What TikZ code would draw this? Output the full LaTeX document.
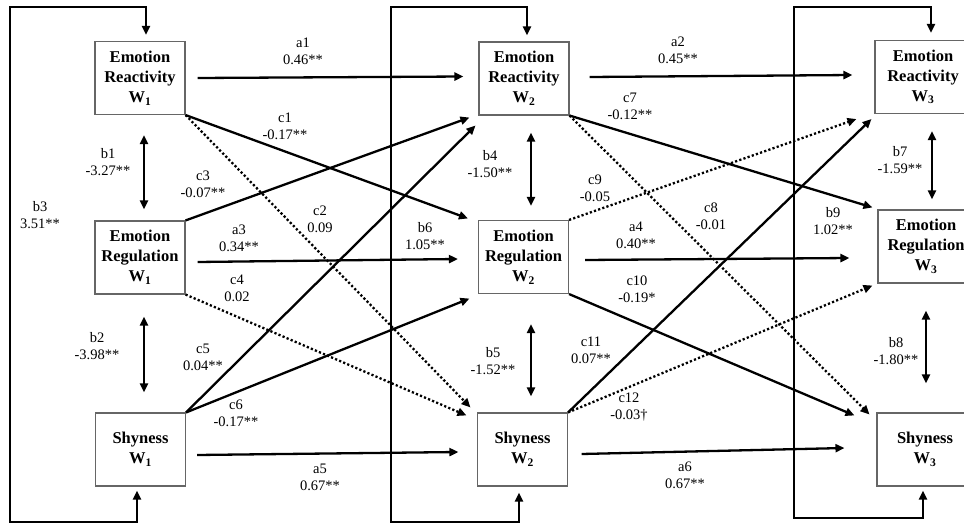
\documentclass[tikz,border=0pt]{standalone}
\usepackage{fontspec}
\setmainfont{Liberation Serif}
\usetikzlibrary{arrows.meta,calc}
\tikzset{
 box/.style={draw=black!60, line width=1.1pt, minimum width=90pt, minimum height=73pt, inner sep=0pt, align=center, font=\fontsize{16.5}{20}\selectfont\bfseries},
 rbox/.style={box, minimum width=96pt},
 lab/.style={align=center, font=\fontsize{14.5}{17}\selectfont, inner sep=0pt},
 arr/.style={line width=2.3pt, -{Triangle[length=9pt,width=8pt]}},
 dotarr/.style={arr, dash pattern=on 2.2pt off 2.2pt},
 dbl/.style={line width=2.3pt, {Triangle[length=9pt,width=8pt]}-{Triangle[length=9pt,width=8pt]}},
}
\begin{document}
\begin{tikzpicture}[x=1pt,y=-1pt]
\useasboundingbox (0,0) rectangle (964,524);
% boxes
\node[box] (ER1) at (140,78) {Emotion\\Reactivity\\W\textsubscript{1}};
\node[box] (EG1) at (140,257.5) {Emotion\\Regulation\\W\textsubscript{1}};
\node[box] (SH1) at (140.5,449.5) {Shyness\\W\textsubscript{1}};
\node[box] (ER2) at (524,78.5) {Emotion\\Reactivity\\W\textsubscript{2}};
\node[box] (EG2) at (523.5,257) {Emotion\\Regulation\\W\textsubscript{2}};
\node[box] (SH2) at (522.5,449.5) {Shyness\\W\textsubscript{2}};
\node[rbox] (ER3) at (923,77) {Emotion\\Reactivity\\W\textsubscript{3}};
\node[rbox] (EG3) at (926,246.5) {Emotion\\Regulation\\W\textsubscript{3}};
\node[rbox] (SH3) at (925,449.5) {Shyness\\W\textsubscript{3}};
% loop corners
\coordinate (L1t) at (10,7); \coordinate (L1b) at (10,522);
\coordinate (L2t) at (391,7); \coordinate (L2b) at (391,522);
\coordinate (L3t) at (794,7); \coordinate (L3b) at (794,518);
\draw[dbl] ([shift={(6,-6)}]ER1.north) |- (L1t) -- (L1b) -| ([shift={(-3.5,4)}]SH1.south);
\draw[dbl] ([shift={(3,-6)}]ER2.north) |- (L2t) -- (L2b) -| ([shift={(-3.5,6)}]SH2.south);
\draw[dbl] ([shift={(8,-7)}]ER3.north) |- (L3t) -- (L3b) -| ([shift={(-2,4)}]SH3.south);
% a paths
\draw[arr] ([shift={(12,0)}]ER1.east) -- ([shift={(-15,-2)}]ER2.west);
\draw[arr] ([shift={(20,-1.5)}]ER2.east) -- ([shift={(-22,-2)}]ER3.west);
\draw[arr] ([shift={(12,4.5)}]EG1.east) -- ([shift={(-20,2)}]EG2.west);
\draw[arr] ([shift={(16,3)}]EG2.east) -- ([shift={(-28,11.5)}]EG3.west);
\draw[arr] ([shift={(11,5.5)}]SH1.east) -- ([shift={(-18.5,2.5)}]SH2.west);
\draw[arr] ([shift={(13.5,4.5)}]SH2.east) -- ([shift={(-32,-1.5)}]SH3.west);
% b covariances
\draw[dbl] ([shift={(4,20)}]ER1.south) -- ([shift={(4,-11)}]EG1.north);
\draw[dbl] ([shift={(4,22)}]EG1.south) -- ([shift={(3.5,-20)}]SH1.north);
\draw[dbl] ([shift={(7,17)}]ER2.south) -- ([shift={(7.5,-14)}]EG2.north);
\draw[dbl] ([shift={(7.5,30)}]EG2.south) -- ([shift={(8.5,-16)}]SH2.north);
\draw[dbl] ([shift={(9,17)}]ER3.south) -- ([shift={(6,-10)}]EG3.north);
\draw[dbl] ([shift={(0,27)}]EG3.south) -- ([shift={(1,-29)}]SH3.north);
% c cross-lagged
\draw[arr] (ER1.south east) -- ([shift={(-10,-1.5)}]EG2.north west);
\draw[dotarr] (ER1.south east) -- ([shift={(-6.5,-5)}]SH2.north west);
\draw[arr] (EG1.north east) -- ([shift={(-9,2)}]ER2.south west);
\draw[dotarr] (EG1.south east) -- ([shift={(-10.5,3)}]SH2.north west);
\draw[arr] (SH1.north east) -- ([shift={(-3,10)}]ER2.south west);
\draw[arr] (SH1.north east) -- ([shift={(-8.5,4.5)}]EG2.south west);
\draw[arr] (ER2.south east) -- ([shift={(-5,-2)}]EG3.north west);
\draw[dotarr] (ER2.south east) -- ([shift={(-7,2)}]SH3.north west);
\draw[dotarr] (EG2.north east) -- ([shift={(-18,5)}]ER3.south west);
\draw[arr] (EG2.south east) -- ([shift={(-22,3)}]SH3.north west);
\draw[arr] (SH2.north east) -- ([shift={(-3,5)}]ER3.south west);
\draw[dotarr] (SH2.north east) -- ([shift={(-5,2)}]EG3.south west);
% labels
\node[lab] (la1) at (303,51) {a1\\0.46**};
\node[lab] (la2) at (678,50) {a2\\0.45**};
\node[lab] (lc1) at (285,126) {c1\\-0.17**};
\node[lab] (lc7) at (630,106) {c7\\-0.12**};
\node[lab] (lb1) at (108,162) {b1\\-3.27**};
\node[lab] (lb3) at (40,215) {b3\\3.51**};
\node[lab] (lc3) at (203,184) {c3\\-0.07**};
\node[lab] (lc2) at (320,219) {c2\\0.09};
\node[lab] (la3) at (239,238) {a3\\0.34**};
\node[lab] (lb6) at (425,236) {b6\\1.05**};
\node[lab] (lb4) at (490,164) {b4\\-1.50**};
\node[lab] (lc9) at (595,188) {c9\\-0.05};
\node[lab] (lc8) at (711,216) {c8\\-0.01};
\node[lab] (lb9) at (833,221) {b9\\1.02**};
\node[lab] (la4) at (636,235) {a4\\0.40**};
\node[lab] (lc4) at (237,288) {c4\\0.02};
\node[lab] (lb2) at (97,346) {b2\\-3.98**};
\node[lab] (lc5) at (203,357) {c5\\0.04**};
\node[lab] (lc6) at (236,413) {c6\\-0.17**};
\node[lab] (la5) at (320,477) {a5\\0.67**};
\node[lab] (lb5) at (493,361) {b5\\-1.52**};
\node[lab] (lc10) at (637,289) {c10\\-0.19*};
\node[lab] (lc11) at (591,350) {c11\\0.07**};
\node[lab] (lc12) at (629,407) {c12\\-0.03\textdagger};
\node[lab] (la6) at (685,475) {a6\\0.67**};
\node[lab] (lb7) at (900,160) {b7\\-1.59**};
\node[lab] (lb8) at (896,351) {b8\\-1.80**};
\end{tikzpicture}
\end{document}
